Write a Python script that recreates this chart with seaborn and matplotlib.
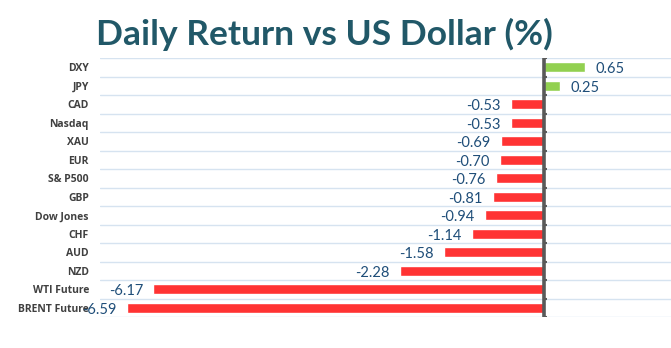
import matplotlib
matplotlib.use("Agg")
import matplotlib.pyplot as plt
import seaborn as sns
import pandas as pd

categories = ["DXY", "JPY", "CAD", "Nasdaq", "XAU", "EUR", "S& P500", "GBP",
              "Dow Jones", "CHF", "AUD", "NZD", "WTI Future", "BRENT Future"]
values = [0.65, 0.25, -0.53, -0.53, -0.69, -0.70, -0.76, -0.81,
          -0.94, -1.14, -1.58, -2.28, -6.17, -6.59]
title = "Daily Return vs US Dollar (%)"

df = pd.DataFrame({"cat": categories, "val": values})
df["sign"] = ["pos" if v >= 0 else "neg" for v in values]

sns.set_style("white")
plt.rcParams["font.family"] = ["Lato", "DejaVu Sans"]

fig = plt.figure(figsize=(6.71, 3.48), dpi=100)
ax = fig.add_axes([100/671, 1-317/348, 571/671, (317-58)/348])

sns.barplot(data=df, x="val", y="cat", hue="sign", orient="h",
            palette={"pos": "#92D050", "neg": "#FF3333"}, width=0.52,
            dodge=False, legend=False, ax=ax, saturation=1)

ax.set_xlim(-7.01, 2.0)
ax.set_ylim(len(categories) - 0.5, -0.5)
ax.set_xlabel("")
ax.set_ylabel("")
ax.set_xticks([])
for s in ax.spines.values():
    s.set_visible(False)

# horizontal gridlines at category boundaries
for i in range(len(categories) + 1):
    ax.axhline(i - 0.5, color="#D6E3F0", lw=1.0, zorder=0)

# zero axis with tick marks
ax.axvline(0, color="#595959", lw=2.6, zorder=3)
for i in range(len(categories) + 1):
    ax.plot([0, 0.05], [i - 0.5, i - 0.5], color="#595959", lw=1.5, zorder=3,
            solid_capstyle="butt")

ax.tick_params(axis="y", length=0, pad=8)
for lab in ax.get_yticklabels():
    lab.set_fontfamily(["Open Sans", "DejaVu Sans"])
    lab.set_fontweight("bold")
    lab.set_fontsize(7.5)
    lab.set_color("#404040")

for i, v in enumerate(values):
    if v >= 0:
        ax.text(v + 0.16, i + 0.1, f"{v:.2f}", ha="left", va="center",
                fontsize=10.5, color="#1F4E79")
    else:
        ax.text(v - 0.16, i + 0.1, f"{v:.2f}", ha="right", va="center",
                fontsize=10.5, color="#1F4E79")

fig.text(324/671, 1-34/348, title, ha="center", va="center",
         fontsize=25.5, fontweight="bold", color="#215868")

fig.savefig("out.png", dpi=100)
